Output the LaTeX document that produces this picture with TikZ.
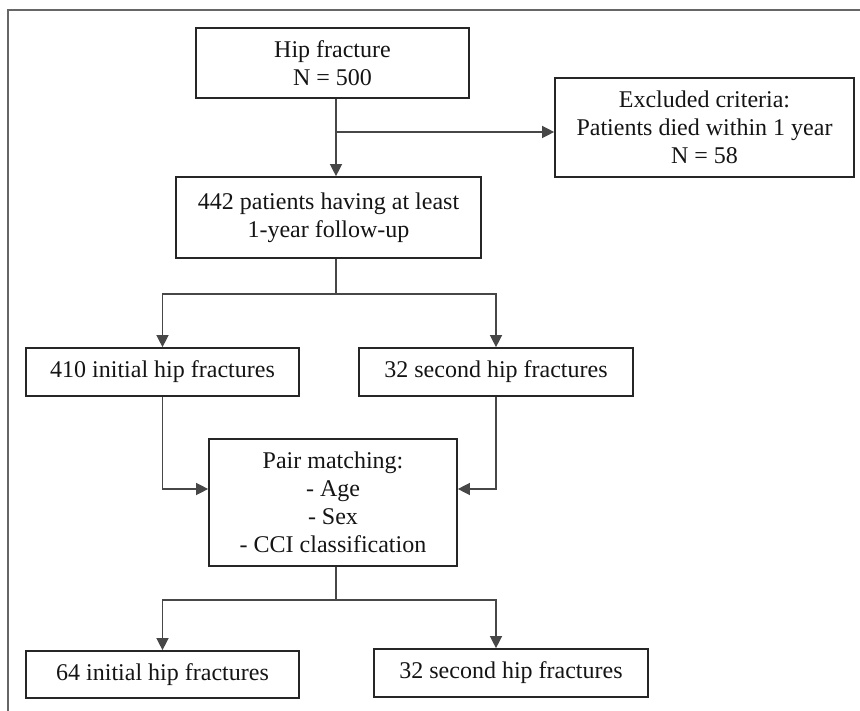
\documentclass[tikz,border=0pt]{standalone}
\usepackage{fontspec}
\setmainfont{Liberation Serif}
\usetikzlibrary{arrows.meta}
\tikzset{
  caja/.style={draw=black!85, line width=1.7pt, align=center, inner sep=0pt,
    font=\fontsize{24}{28}\selectfont, text=black!92},
  linea/.style={draw=black!72, line width=1.4pt},
  flecha/.style={linea, -{Triangle[width=12pt,length=12pt]}},
}
\begin{document}
\begin{tikzpicture}[x=1pt,y=-1pt]
    % Marco
    \useasboundingbox (0,0) rectangle (860,711);
    \draw[black!60, line width=1.8pt] (8,712) -- (8,10) -- (861,10);

    % Cajas
    \node[caja, minimum width=273pt, minimum height=70pt] (hip) at (332.5,63) {Hip fracture\\N = 500};
    \node[caja, minimum width=299pt, minimum height=99pt] (excl) at (704.5,127.5) {Excluded criteria:\\Patients died within 1 year\\N = 58};
    \node[caja, minimum width=305pt, minimum height=81pt] (follow) at (328.5,217.5) {442 patients having at least\\1-year follow-up};
    \node[caja, minimum width=273pt, minimum height=48pt] (init) at (162.5,372) {410 initial hip fractures};
    \node[caja, minimum width=274pt, minimum height=48pt] (second) at (496,372) {32 second hip fractures};
    \node[caja, minimum width=248pt, minimum height=127pt] (pair) at (333,502.5) {Pair matching:\\- Age\\- Sex\\- CCI classification};
    \node[caja, minimum width=273pt, minimum height=47pt] (init64) at (162.5,674.5) {64 initial hip fractures};
    \node[caja, minimum width=274pt, minimum height=48pt] (second32) at (511,673) {32 second hip fractures};

    % Puntos de union
    \coordinate (tronco) at (336,132);
    \coordinate (rama1) at (336,294);
    \coordinate (entrada) at (0,489);
    \coordinate (rama2) at (336,600);

    % Conectores
    \draw[flecha] (hip.south -| tronco) -- (follow.north -| tronco);
    \draw[flecha] (tronco) -- (excl.west |- tronco);
    \draw[linea] (follow.south -| rama1) -- (rama1);
    \draw[flecha] (rama1) -| (init.north);
    \draw[flecha] (rama1) -| (second.north);
    \draw[flecha] (init.south) |- (pair.west |- entrada);
    \draw[flecha] (second.south) |- (pair.east |- entrada);
    \draw[linea] (pair.south -| rama2) -- (rama2);
    \draw[flecha] (rama2) -| (init64.north);
    \draw[flecha] (rama2) -| (second.south |- second32.north);
\end{tikzpicture}
\end{document}
